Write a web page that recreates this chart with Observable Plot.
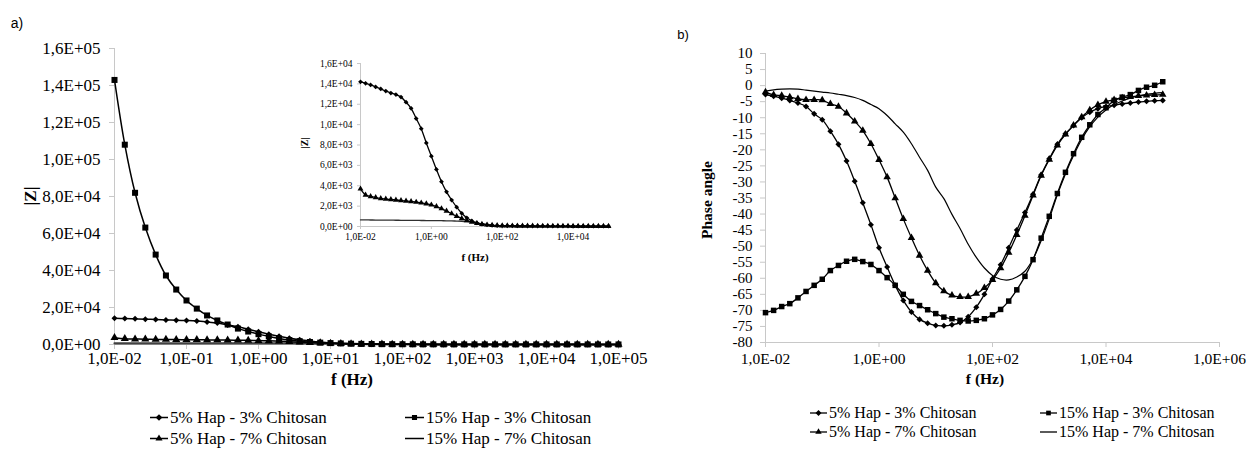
<!DOCTYPE html>
<html><head><meta charset="utf-8">
<script src="https://cdn.jsdelivr.net/npm/d3@7"></script>
<script src="https://cdn.jsdelivr.net/npm/@observablehq/plot@0.6"></script>
<style>
body{margin:0;background:#fff;}
#root{position:relative;width:1247px;height:449px;overflow:hidden;font-family:"Liberation Serif","Times New Roman",serif;color:#000;background:#fff}
.t{position:absolute;white-space:nowrap;line-height:1;transform:translate(-50%,-50%)}
.b{font-weight:bold}
.lg{position:absolute;display:flex;align-items:center;white-space:nowrap;line-height:1;transform:translateY(-50%)}
g[aria-label="x-axis tick"], g[aria-label="y-axis tick"]{stroke:#c8c8c8}
</style></head><body><div id="root"></div>
<script>
// ---------- data ----------
const freq = [0.01,0.0139,0.0193,0.0268,0.0373,0.0518,0.072,0.1,0.139,0.193,0.268,0.373,0.518,0.72,1,1.39,1.93,2.68,3.73,5.18,7.2,10,13.9,19.3,26.8,37.3,51.8,72,100,139,193,268,373,518,720,1000,1390,1930,2680,3730,5180,7200,10000,13900,19300,26800,37300,51800,72000,100000];
const seriesNames = ["5% Hap - 3% Chitosan","15% Hap - 3% Chitosan","5% Hap - 7% Chitosan","15% Hap - 7% Chitosan"];

// |Z| (ohm)
const z5_3  = [14200,14050,13900,13700,13500,13300,13100,12950,12700,12200,11600,10600,9600,8200,6900,5600,4400,3400,2600,1900,1300,850,550,350,230,160,120,95,80,70,62,56,52,48,45,42,40,38,36,35,34,33,32,31,30,29,28,28,27,27];
const z15_3 = [143000,108000,82000,63200,48600,37300,29700,23800,19400,15700,13000,10800,8600,7000,5600,4400,3300,2400,1800,1350,1000,760,580,440,330,250,190,150,120,98,82,70,61,54,48,44,41,38,36,34,33,32,31,30,29,28,28,27,27,26];
const z5_7  = [3700,3100,2950,2850,2750,2700,2650,2600,2550,2500,2450,2400,2320,2230,2120,1960,1760,1520,1260,1010,790,590,430,310,220,160,120,95,80,70,62,56,52,48,45,42,40,38,36,35,34,33,32,31,30,29,28,28,27,27];
const z15_7 = [650,645,640,635,630,625,620,615,610,605,600,595,590,585,580,575,568,560,550,535,515,480,420,340,260,190,130,90,65,50,40,34,30,27,25,23,22,21,20,19,18,17,16,15,15,14,14,13,13,12];

// phase angle (deg)
const p5_3  = [-2.8,-3.3,-3.9,-4.6,-5.4,-6.5,-8.8,-10.6,-14.2,-18.3,-23.5,-29.8,-36.5,-43.3,-50.5,-56.5,-62.2,-66.9,-70.5,-72.8,-74.0,-74.7,-74.8,-74.5,-73.8,-72.0,-69.0,-65.0,-60.2,-55.8,-50.5,-45.0,-39.5,-33.8,-27.8,-22.8,-18.3,-15.0,-12.4,-10.0,-8.3,-7.2,-6.5,-6.1,-5.7,-5.4,-5.1,-4.9,-4.7,-4.6];
const p15_3 = [-70.7,-70.0,-68.8,-67.9,-66.1,-64.1,-62.2,-60.3,-57.6,-56.0,-54.7,-54.1,-54.8,-55.7,-57.6,-59.8,-62.2,-65.0,-67.2,-68.5,-69.8,-71.0,-72.1,-72.6,-73.1,-73.3,-73.1,-72.6,-71.4,-69.7,-67.1,-63.6,-59.4,-54.2,-47.5,-40.7,-33.6,-27.0,-21.2,-16.1,-12.2,-9.0,-6.9,-4.6,-3.6,-2.8,-1.5,-0.5,0.1,1.2];
const p5_7  = [-2.0,-2.9,-3.1,-3.6,-4.1,-4.4,-4.4,-4.5,-5.7,-6.5,-8.6,-11.1,-14.0,-18.1,-23.1,-28.5,-35.0,-41.5,-47.4,-52.9,-57.6,-61.5,-64.0,-65.3,-65.8,-65.8,-64.8,-63.0,-60.5,-56.8,-52.0,-46.5,-40.5,-34.2,-28.0,-23.0,-18.6,-15.2,-12.4,-9.8,-7.6,-6.0,-5.0,-4.4,-3.9,-3.5,-3.2,-3.0,-2.9,-2.8];
const p15_7 = [-1.7,-1.3,-1.1,-1.0,-1.1,-1.4,-1.7,-2.0,-2.3,-2.7,-3.1,-3.7,-4.6,-5.9,-7.2,-9.3,-11.9,-14.5,-18.1,-22.3,-26.4,-31.6,-35.2,-40.1,-44.5,-49.4,-53.5,-56.8,-59.1,-60.3,-60.5,-59.6,-57.8,-54.0,-48.3,-41.5,-34.0,-27.5,-21.8,-16.8,-12.8,-9.8,-7.6,-5.9,-4.8,-3.9,-3.2,-2.7,-2.4,-2.2];

// ticks
const leftXTicks = [1e-2,1e-1,1e0,1e1,1e2,1e3,1e4,1e5];
const leftXLabels = ["1,0E-02","1,0E-01","1,0E+00","1,0E+01","1,0E+02","1,0E+03","1,0E+04","1,0E+05"];
const leftYTicks = [0,20000,40000,60000,80000,100000,120000,140000,160000];
const leftYLabels = ["0,0E+00","2,0E+04","4,0E+04","6,0E+04","8,0E+04","1,0E+05","1,2E+05","1,4E+05","1,6E+05"];
const insetXTicks = [1e-2,1e0,1e2,1e4];
const insetXLabels = ["1,0E-02","1,0E+00","1,0E+02","1,0E+04"];
const insetYTicks = [0,2000,4000,6000,8000,10000,12000,14000,16000];
const insetYLabels = ["0,0E+00","2,0E+03","4,0E+03","6,0E+03","8,0E+03","1,0E+04","1,2E+04","1,4E+04","1,6E+04"];
const rightXTicks = [1e-2,1e0,1e2,1e4,1e6];
const rightXLabels = ["1,0E-02","1,0E+00","1,0E+02","1,0E+04","1,0E+06"];
const rightYTicks = [-80,-75,-70,-65,-60,-55,-50,-45,-40,-35,-30,-25,-20,-15,-10,-5,0,5,10];
const rightYLabels = ["-80","-75","-70","-65","-60","-55","-50","-45","-40","-35","-30","-25","-20","-15","-10","-5","0","5","10"];

// ---------- drawing ----------
const SERIF = '"Liberation Serif","Times New Roman",serif';
const AXIS = "#c8c8c8";
const root = document.getElementById("root");
const rows = vals => freq.map((f, i) => ({f, v: vals[i]}));
const fmt = (ticks, labels) => d => labels[ticks.indexOf(d)];
const diamond = {draw(ctx, size) { const r = Math.sqrt(size / 2); ctx.moveTo(0, -r); ctx.lineTo(r, 0); ctx.lineTo(0, r); ctx.lineTo(-r, 0); ctx.closePath(); }};
const curve = "catmull-rom";

function place(el, left, top) { el.style.position = "absolute"; el.style.left = left + "px"; el.style.top = top + "px"; root.appendChild(el); return el; }
function text(str, cx, cy, size, opts = {}) {
  const d = document.createElement("div");
  d.className = "t" + (opts.bold ? " b" : "");
  d.textContent = str;
  d.style.left = cx + "px"; d.style.top = cy + "px"; d.style.fontSize = size + "px";
  if (opts.family) d.style.fontFamily = opts.family;
  if (opts.rotate) d.style.transform = "translate(-50%,-50%) rotate(-90deg)";
  root.appendChild(d);
}

function seriesMarks(d53, d153, d57, d157, sz, lw, lineStroke, lineW, include153 = true) {
  const m = [];
  m.push(Plot.line(rows(d157), {x: "f", y: "v", stroke: lineStroke, strokeWidth: lineW, curve}));
  m.push(Plot.line(rows(d57), {x: "f", y: "v", stroke: "black", strokeWidth: lw, curve}));
  m.push(Plot.dot(rows(d57), {x: "f", y: "v", symbol: "triangle", r: sz.tri, fill: "black"}));
  m.push(Plot.line(rows(d53), {x: "f", y: "v", stroke: "black", strokeWidth: lw, curve}));
  m.push(Plot.dot(rows(d53), {x: "f", y: "v", symbol: diamond, r: sz.dia, fill: "black"}));
  if (include153) {
    m.push(Plot.line(rows(d153), {x: "f", y: "v", stroke: "black", strokeWidth: lw, curve}));
    m.push(Plot.dot(rows(d153), {x: "f", y: "v", symbol: "square", r: sz.sq, fill: "black"}));
  }
  return m;
}

// Left main plot
const mainPlot = Plot.plot({
  width: 640, height: 400,
  marginLeft: 114, marginRight: 22, marginTop: 48, marginBottom: 56,
  style: {fontFamily: SERIF, background: "transparent", overflow: "visible", color: "black"},
  x: {type: "log", domain: [1e-2, 1e5]},
  y: {domain: [0, 160000]},
  marks: [
    Plot.ruleY([0], {stroke: AXIS}),
    Plot.ruleX([1e-2], {stroke: AXIS}),
    Plot.axisX(leftXTicks, {tickSize: 5, tickPadding: 2, fontSize: 17, tickFormat: fmt(leftXTicks, leftXLabels), label: null}),
    Plot.axisY(leftYTicks, {tickSize: 5, tickPadding: 9, fontSize: 17, tickFormat: fmt(leftYTicks, leftYLabels), label: null}),
    ...seriesMarks(z5_3, z15_3, z5_7, z15_7, {tri: 3, dia: 2.4, sq: 3.4}, 1.5, "#404040", 2.2)
  ]
});
place(mainPlot, 0, 0);

// Inset
const inset = Plot.plot({
  width: 330, height: 220,
  marginLeft: 70, marginRight: 12, marginTop: 13, marginBottom: 44,
  style: {fontFamily: SERIF, background: "transparent", overflow: "visible", color: "black"},
  x: {type: "log", domain: [1e-2, 1e5]},
  y: {domain: [0, 16000]},
  marks: [
    Plot.ruleY([0], {stroke: AXIS}),
    Plot.ruleX([1e-2], {stroke: AXIS}),
    Plot.axisX(insetXTicks, {tickSize: 3, tickPadding: 4, fontSize: 9.5, tickFormat: fmt(insetXTicks, insetXLabels), label: null}),
    Plot.axisY(insetYTicks, {tickSize: 3, tickPadding: 5, fontSize: 9.5, tickFormat: fmt(insetYTicks, insetYLabels), label: null}),
    ...seriesMarks(z5_3, z15_3, z5_7, z15_7, {tri: 2.2, dia: 1.9, sq: 2.2}, 1.3, "#303030", 1.3, false)
  ]
});
place(inset, 290, 50);

// Right plot
const rightPlot = Plot.plot({
  width: 607, height: 400,
  marginLeft: 125, marginRight: 28, marginTop: 53, marginBottom: 58,
  style: {fontFamily: SERIF, background: "transparent", overflow: "visible", color: "black"},
  x: {type: "log", domain: [1e-2, 1e6]},
  y: {domain: [-80, 10]},
  marks: [
    Plot.ruleY([-80], {stroke: AXIS}),
    Plot.ruleX([1e-2], {stroke: AXIS}),
    Plot.axisX(rightXTicks, {tickSize: 5, tickPadding: 5, fontSize: 15.5, tickFormat: fmt(rightXTicks, rightXLabels), label: null}),
    Plot.axisY(rightYTicks, {tickSize: 5, tickPadding: 8, fontSize: 15, tickFormat: fmt(rightYTicks, rightYLabels), label: null}),
    ...seriesMarks(p5_3, p15_3, p5_7, p15_7, {tri: 2.8, dia: 2.4, sq: 3.1}, 1.3, "black", 1.2)
  ]
});
place(rightPlot, 640, 0);

// Titles and labels
const SANS = '"Liberation Sans","Open Sans",sans-serif';
text("a)", 17, 23, 14, {family: SANS});
text("b)", 683, 34, 13, {family: SANS});
text("|Z|", 30, 196, 17, {bold: true, rotate: true});
text("f (Hz)", 352, 379, 17, {bold: true});
text("|Z|", 305, 143, 10, {bold: true, rotate: true});
text("f (Hz)", 475, 257, 11, {bold: true});
text("Phase angle", 707, 200, 15.5, {bold: true, rotate: true});
text("f (Hz)", 985, 379, 15.5, {bold: true});

// Legends
const legendSymbols = [diamond, d3.symbolSquare, d3.symbolTriangle, null];
function legendItem(idx, x, y, swW, size, symSize) {
  const d = document.createElement("div");
  d.className = "lg";
  d.style.left = x + "px"; d.style.top = y + "px"; d.style.fontSize = size + "px";
  const svg = d3.create("svg").attr("width", swW + 2).attr("height", 10).style("display", "block");
  svg.append("line").attr("x1", 0).attr("x2", swW).attr("y1", 5).attr("y2", 5).attr("stroke", "black").attr("stroke-width", 1.3);
  if (legendSymbols[idx]) svg.append("path").attr("transform", `translate(${swW / 2},5)`).attr("d", d3.symbol(legendSymbols[idx], symSize)()).attr("fill", "black");
  d.appendChild(svg.node());
  const s = document.createElement("span"); s.textContent = seriesNames[idx];
  d.appendChild(s);
  root.appendChild(d);
}
legendItem(0, 150, 417, 18, 17, 22);
legendItem(1, 405, 417, 19, 17, 26);
legendItem(2, 150, 438, 18, 17, 22);
legendItem(3, 405, 438, 19, 17, 0);
legendItem(0, 810, 413, 17, 16, 18);
legendItem(1, 1040, 413, 17, 16, 22);
legendItem(2, 810, 432, 17, 16, 18);
legendItem(3, 1040, 432, 17, 16, 0);
</script></body></html>
